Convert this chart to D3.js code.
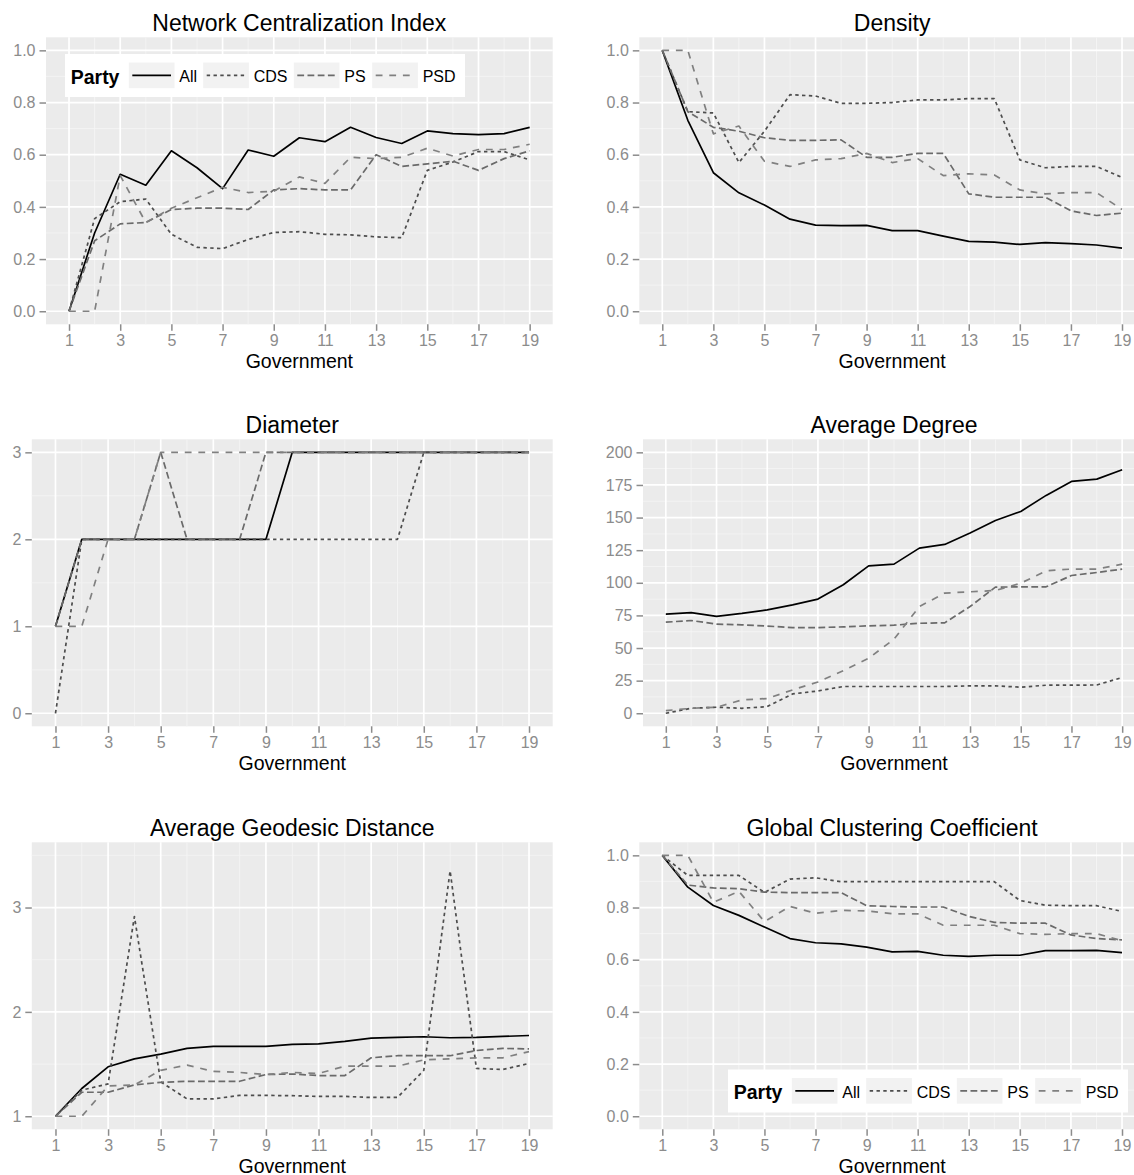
<!DOCTYPE html>
<html>
<head>
<meta charset="utf-8">
<script src="https://cdn.jsdelivr.net/npm/d3@7"></script>
<style>
  body { margin: 0; background: #fff; }
  svg { display: block; font-family: "Liberation Sans", Arial, Helvetica, sans-serif; }
</style>
</head>
<body>
<div id="chart"></div>
<script>
// governments on the x axis
const government = [1, 2, 3, 4, 5, 6, 7, 8, 9, 10, 11, 12, 13, 14, 15, 16, 17, 18, 19];
const xTicks = [1, 3, 5, 7, 9, 11, 13, 15, 17, 19];
const parties = ["All", "CDS", "PS", "PSD"];

// Network Centralization Index
const centralAll = [0.00, 0.30, 0.525, 0.483, 0.615, 0.55, 0.47, 0.618, 0.594, 0.665, 0.65, 0.705, 0.666, 0.643, 0.691, 0.681, 0.677, 0.681, 0.705];
const centralCDS = [0.00, 0.355, 0.42, 0.43, 0.295, 0.245, 0.24, 0.275, 0.302, 0.305, 0.295, 0.293, 0.285, 0.282, 0.54, 0.572, 0.612, 0.612, 0.58];
const centralPS  = [0.00, 0.27, 0.335, 0.34, 0.39, 0.395, 0.395, 0.39, 0.465, 0.47, 0.465, 0.465, 0.60, 0.555, 0.565, 0.575, 0.54, 0.585, 0.615];
const centralPSD = [0.00, 0.00, 0.52, 0.34, 0.395, 0.435, 0.475, 0.455, 0.46, 0.515, 0.49, 0.59, 0.585, 0.59, 0.625, 0.595, 0.62, 0.62, 0.64];

// Density
const densAll = [1.0, 0.732, 0.531, 0.454, 0.407, 0.353, 0.33, 0.328, 0.329, 0.309, 0.309, 0.288, 0.268, 0.265, 0.256, 0.263, 0.259, 0.254, 0.242];
const densCDS = [1.0, 0.765, 0.76, 0.57, 0.69, 0.83, 0.825, 0.797, 0.797, 0.80, 0.81, 0.81, 0.815, 0.815, 0.58, 0.55, 0.555, 0.555, 0.513];
const densPS  = [1.0, 0.765, 0.705, 0.69, 0.665, 0.655, 0.655, 0.657, 0.59, 0.59, 0.605, 0.605, 0.45, 0.437, 0.437, 0.437, 0.385, 0.367, 0.376];
const densPSD = [1.0, 1.0, 0.68, 0.71, 0.575, 0.555, 0.58, 0.585, 0.605, 0.57, 0.585, 0.52, 0.527, 0.522, 0.465, 0.45, 0.455, 0.455, 0.39];

// Diameter
const diamAll = [1, 2, 2, 2, 2, 2, 2, 2, 2, 3, 3, 3, 3, 3, 3, 3, 3, 3, 3];
const diamCDS = [0, 2, 2, 2, 2, 2, 2, 2, 2, 2, 2, 2, 2, 2, 3, 3, 3, 3, 3];
const diamPS  = [1, 2, 2, 2, 3, 2, 2, 2, 3, 3, 3, 3, 3, 3, 3, 3, 3, 3, 3];
const diamPSD = [1, 1, 2, 2, 3, 3, 3, 3, 3, 3, 3, 3, 3, 3, 3, 3, 3, 3, 3];

// Average Degree
const degAll = [76.0, 77.2, 74.2, 76.5, 79.3, 83.1, 87.5, 98.5, 113, 114.3, 126.6, 129.4, 138.1, 147.8, 154.7, 167, 177.7, 179.5, 186.7];
const degCDS = [0, 3.8, 4.6, 3.8, 5.1, 14.8, 17.1, 20.5, 20.5, 20.5, 20.5, 20.5, 21, 21, 20, 21.5, 21.5, 21.7, 27.4];
const degPS  = [69.8, 71.1, 68.3, 67.8, 66.8, 65.7, 65.7, 66.2, 67, 67.5, 69, 69.3, 81.8, 96.7, 96.9, 96.9, 105.6, 107.9, 110.5];
const degPSD = [2, 3.8, 4.6, 10.2, 11.3, 17.9, 24, 32.7, 42.2, 56.8, 81.8, 92.1, 93.1, 94.1, 99.7, 109.2, 110.5, 110.5, 114.3];

// Average Geodesic Distance
const geoAll = [1.0, 1.266, 1.474, 1.55, 1.595, 1.65, 1.669, 1.669, 1.669, 1.688, 1.694, 1.717, 1.749, 1.755, 1.762, 1.752, 1.755, 1.765, 1.774];
const geoCDS = [1.0, 1.25, 1.31, 2.914, 1.33, 1.166, 1.166, 1.2, 1.2, 1.197, 1.19, 1.19, 1.18, 1.18, 1.44, 3.352, 1.458, 1.448, 1.506];
const geoPS  = [1.0, 1.23, 1.23, 1.3, 1.325, 1.335, 1.335, 1.335, 1.40, 1.405, 1.39, 1.39, 1.56, 1.58, 1.58, 1.58, 1.63, 1.65, 1.645];
const geoPSD = [1.0, 1.0, 1.29, 1.30, 1.44, 1.49, 1.43, 1.42, 1.40, 1.42, 1.41, 1.48, 1.48, 1.48, 1.54, 1.55, 1.56, 1.56, 1.62];

// Global Clustering Coefficient
const clusAll = [1.0, 0.878, 0.808, 0.77, 0.725, 0.681, 0.665, 0.661, 0.648, 0.63, 0.632, 0.617, 0.613, 0.617, 0.617, 0.635, 0.635, 0.636, 0.627];
const clusCDS = [1.0, 0.923, 0.923, 0.923, 0.858, 0.909, 0.914, 0.899, 0.899, 0.899, 0.899, 0.899, 0.899, 0.899, 0.827, 0.809, 0.807, 0.807, 0.785];
const clusPS  = [1.0, 0.886, 0.875, 0.872, 0.859, 0.857, 0.857, 0.857, 0.807, 0.804, 0.802, 0.802, 0.766, 0.743, 0.74, 0.74, 0.695, 0.681, 0.676];
const clusPSD = [1.0, 1.0, 0.82, 0.862, 0.746, 0.804, 0.778, 0.789, 0.787, 0.776, 0.776, 0.732, 0.732, 0.732, 0.70, 0.697, 0.70, 0.70, 0.673];

// y tick labels per panel
const ticksUnit = [0, 0.2, 0.4, 0.6, 0.8, 1.0];
const ticksDiam = [0, 1, 2, 3];
const ticksDeg  = [0, 25, 50, 75, 100, 125, 150, 175, 200];
const ticksGeo  = [1, 2, 3];

const panels = [
  { title: "Network Centralization Index", series: [centralAll, centralCDS, centralPS, centralPSD], yDomain: [0, 1], yTicks: ticksUnit, fmt: d3.format(".1f") },
  { title: "Density", series: [densAll, densCDS, densPS, densPSD], yDomain: [0, 1], yTicks: ticksUnit, fmt: d3.format(".1f") },
  { title: "Diameter", series: [diamAll, diamCDS, diamPS, diamPSD], yDomain: [0, 3], yTicks: ticksDiam, fmt: d3.format("d") },
  { title: "Average Degree", series: [degAll, degCDS, degPS, degPSD], yDomain: [0, 200], yTicks: ticksDeg, fmt: d3.format("d") },
  { title: "Average Geodesic Distance", series: [geoAll, geoCDS, geoPS, geoPSD], yDomain: [1, 3.5], yTicks: ticksGeo, fmt: d3.format("d") },
  { title: "Global Clustering Coefficient", series: [clusAll, clusCDS, clusPS, clusPSD], yDomain: [0, 1], yTicks: ticksUnit, fmt: d3.format(".1f") }
];

// styling
const partyColor = d3.scaleOrdinal().domain(parties).range(["#000000", "#4D4D4D", "#6A6A6A", "#808080"]);
const partyDash = d3.scaleOrdinal().domain(parties).range(["none", "3.4,3.4", "6.8,3.4", "6.8,6.8"]);
const lineW = 1.7;
const tickGrey = "#8C8C8C";

// panel placement (the right column is cut off by the picture edge)
const layout = [
  { left: 46,    top: 37.3,  right: 552.7 },
  { left: 639.3, top: 37.3,  right: 1145 },
  { left: 31.8,  top: 439.3, right: 552.7 },
  { left: 643,   top: 439.3, right: 1145 },
  { left: 31.8,  top: 842.3, right: 552.7 },
  { left: 639.3, top: 842.3, right: 1145 }
];
const panelH = 287;

const svg = d3.select("#chart")
  .append("svg")
  .attr("width", 1134)
  .attr("height", 1175);

svg.append("rect").attr("width", 1134).attr("height", 1175).attr("fill", "#fff");

function midpoints(ticks, lo, hi) {
  const step = ticks[1] - ticks[0];
  const out = [];
  for (let i = 0; i < ticks.length - 1; i++) out.push((ticks[i] + ticks[i + 1]) / 2);
  if (ticks[0] - step / 2 >= lo) out.unshift(ticks[0] - step / 2);
  if (ticks[ticks.length - 1] + step / 2 <= hi) out.push(ticks[ticks.length - 1] + step / 2);
  return out;
}

panels.forEach((p, i) => {
  const L = layout[i];
  const bottom = L.top + panelH;
  const x = d3.scaleLinear().domain([0.1, 19.9]).range([L.left, L.right]);
  const pad = (p.yDomain[1] - p.yDomain[0]) * 0.05;
  const yLo = p.yDomain[0] - pad, yHi = p.yDomain[1] + pad;
  const y = d3.scaleLinear().domain([yLo, yHi]).range([bottom, L.top]);

  const g = svg.append("g");

  // panel background
  g.append("rect")
    .attr("x", L.left).attr("y", L.top)
    .attr("width", L.right - L.left).attr("height", panelH)
    .attr("fill", "#EBEBEB");

  // minor grid
  const xMinor = midpoints(xTicks, 0.1, 19.9);
  const yMinor = midpoints(p.yTicks, yLo, yHi);
  g.append("g").selectAll("line").data(xMinor).join("line")
    .attr("x1", d => x(d)).attr("x2", d => x(d))
    .attr("y1", L.top).attr("y2", bottom)
    .attr("stroke", "#F4F4F4").attr("stroke-width", 0.9);
  g.append("g").selectAll("line").data(yMinor).join("line")
    .attr("x1", L.left).attr("x2", L.right)
    .attr("y1", d => y(d)).attr("y2", d => y(d))
    .attr("stroke", "#F4F4F4").attr("stroke-width", 0.9);

  // major grid
  g.append("g").selectAll("line").data(xTicks).join("line")
    .attr("x1", d => x(d)).attr("x2", d => x(d))
    .attr("y1", L.top).attr("y2", bottom)
    .attr("stroke", "#fff").attr("stroke-width", 1.7);
  g.append("g").selectAll("line").data(p.yTicks).join("line")
    .attr("x1", L.left).attr("x2", L.right)
    .attr("y1", d => y(d)).attr("y2", d => y(d))
    .attr("stroke", "#fff").attr("stroke-width", 1.7);

  // series lines
  const line = d3.line()
    .x((d, k) => x(government[k]))
    .y(d => y(d));

  g.append("g").selectAll("path")
    .data(p.series.map((vals, k) => ({ party: parties[k], vals })))
    .join("path")
    .attr("d", d => line(d.vals))
    .attr("fill", "none")
    .attr("stroke", d => partyColor(d.party))
    .attr("stroke-width", lineW)
    .attr("stroke-dasharray", d => partyDash(d.party))
    .attr("stroke-linejoin", "round");

  // axes
  const yAxis = g.append("g")
    .attr("transform", `translate(${L.left}, 0)`)
    .call(d3.axisLeft(y).tickValues(p.yTicks).tickFormat(p.fmt).tickSize(6.5).tickPadding(4))
    .call(a => a.select(".domain").remove());
  const xAxis = g.append("g")
    .attr("transform", `translate(0, ${bottom})`)
    .call(d3.axisBottom(x).tickValues(xTicks).tickFormat(d3.format("d")).tickSize(6.5).tickPadding(4))
    .call(a => a.select(".domain").remove());
  [yAxis, xAxis].forEach(a => {
    a.selectAll(".tick line").attr("stroke", tickGrey).attr("stroke-width", 1.5);
    a.selectAll(".tick text")
      .attr("fill", tickGrey)
      .style("font-size", "16px")
      .style("font-family", "'Liberation Sans', Arial, Helvetica, sans-serif");
  });

  // titles
  const cx = (L.left + L.right) / 2;
  g.append("text")
    .attr("x", cx).attr("y", L.top - 6)
    .attr("text-anchor", "middle")
    .style("font-size", "23px")
    .attr("fill", "#000")
    .text(p.title);
  g.append("text")
    .attr("x", cx).attr("y", bottom + 44)
    .attr("text-anchor", "middle")
    .style("font-size", "19.5px")
    .attr("fill", "#000")
    .text("Government");
});

// legend
function drawLegend(x0, y0) {
  const lg = svg.append("g").attr("transform", `translate(${x0}, ${y0})`);
  lg.append("rect").attr("width", 400).attr("height", 43).attr("fill", "#fff");
  lg.append("text")
    .attr("x", 5.7).attr("y", 29.5)
    .style("font-size", "19.5px").style("font-weight", "bold")
    .text("Party");
  const keyX = [63.3, 137.7, 228.3, 306.7];
  const items = lg.selectAll("g.key").data(parties).join("g")
    .attr("class", "key")
    .attr("transform", (d, k) => `translate(${keyX[k]}, 8)`);
  items.append("rect")
    .attr("width", 46.7).attr("height", 26.7)
    .attr("fill", "#F2F2F2").attr("stroke", "#fff").attr("stroke-width", 1);
  items.append("line")
    .attr("x1", 4).attr("x2", 42.7)
    .attr("y1", 13.35).attr("y2", 13.35)
    .attr("stroke", d => partyColor(d))
    .attr("stroke-width", lineW)
    .attr("stroke-dasharray", d => partyDash(d));
  items.append("text")
    .attr("x", 51).attr("y", 20)
    .style("font-size", "16px")
    .attr("fill", "#000")
    .text(d => d);
}

drawLegend(65, 54);
drawLegend(728, 1069.5);
</script>
</body>
</html>
